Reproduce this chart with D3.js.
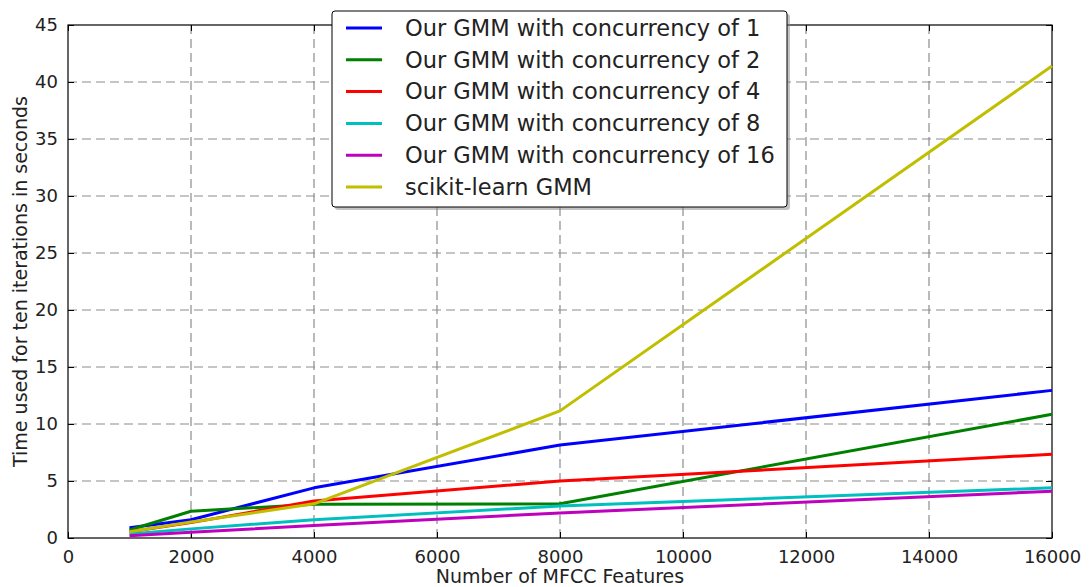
<!DOCTYPE html>
<html>
<head>
<meta charset="utf-8">
<script src="https://cdn.jsdelivr.net/npm/d3@7"></script>
<style>
  body { margin: 0; background: #fff; }
  text { font-family: "DejaVu Sans", sans-serif; fill: #222; }
</style>
</head>
<body>
<div id="chart"></div>
<script>
// data
var features = [1000, 2000, 4000, 8000, 16000];
var conc1 = [0.9, 1.6, 4.4, 8.15, 12.95];
var conc2 = [0.7, 2.35, 2.95, 3.0, 10.85];
var conc4 = [0.55, 1.35, 3.25, 5.0, 7.35];
var conc8 = [0.35, 0.8, 1.6, 2.8, 4.4];
var conc16 = [0.2, 0.5, 1.1, 2.2, 4.1];
var sklearn = [0.55, 1.4, 3.0, 11.15, 41.4];

var seriesNames = ["Our GMM with concurrency of 1", "Our GMM with concurrency of 2",
  "Our GMM with concurrency of 4", "Our GMM with concurrency of 8",
  "Our GMM with concurrency of 16", "scikit-learn GMM"];
var seriesColors = ["#0000ff", "#008000", "#ff0000", "#00bfbf", "#bf00bf", "#bfbf00"];
var xTicks = [0, 2000, 4000, 6000, 8000, 10000, 12000, 14000, 16000];
var yTicks = [0, 5, 10, 15, 20, 25, 30, 35, 40, 45];

var series = [conc1, conc2, conc4, conc8, conc16, sklearn].map(function (vals, i) {
  return {
    name: seriesNames[i],
    color: seriesColors[i],
    values: vals.map(function (v, j) { return { x: features[j], y: v }; })
  };
});

var W = 1092, H = 587;
var margin = { left: 68, right: 40, top: 25, bottom: 49 };
var width = W - margin.left - margin.right;
var height = H - margin.top - margin.bottom;

var svg = d3.select("#chart").append("svg")
  .attr("width", W)
  .attr("height", H);

var g = svg.append("g")
  .attr("transform", "translate(" + margin.left + "," + margin.top + ")");

var xScale = d3.scaleLinear().domain([0, 16000]).range([0, width]);
var yScale = d3.scaleLinear().domain([0, 45]).range([height, 0]);

// grid
g.append("g").selectAll("line")
  .data(xTicks.slice(1, -1)).enter()
  .append("line")
  .attr("x1", d => xScale(d)).attr("x2", d => xScale(d))
  .attr("y1", 0).attr("y2", height)
  .attr("stroke", "#8c8c8c").attr("stroke-width", 1.2)
  .attr("stroke-dasharray", "9,5");

g.append("g").selectAll("line")
  .data(yTicks.slice(1, -1)).enter()
  .append("line")
  .attr("y1", d => yScale(d)).attr("y2", d => yScale(d))
  .attr("x1", 0).attr("x2", width)
  .attr("stroke", "#8c8c8c").attr("stroke-width", 1.2)
  .attr("stroke-dasharray", "9,5");

// axes (ticks inward, mirrored)
var xAxis = d3.axisBottom(xScale).tickValues(xTicks).tickSize(-6).tickPadding(12).tickFormat(d3.format("d"));
var yAxis = d3.axisLeft(yScale).tickValues(yTicks).tickSize(-6).tickPadding(10);

var xg = g.append("g").attr("transform", "translate(0," + height + ")").call(xAxis);
var yg = g.append("g").call(yAxis);
var xt = g.append("g").call(d3.axisTop(xScale).tickValues(xTicks).tickSize(-6).tickFormat(""));
var yr = g.append("g").attr("transform", "translate(" + width + ",0)")
  .call(d3.axisRight(yScale).tickValues(yTicks).tickSize(-6).tickFormat(""));

[xg, yg, xt, yr].forEach(function (a) {
  a.select(".domain").remove();
  a.selectAll(".tick line").attr("stroke", "#000").attr("stroke-width", 1);
  a.selectAll(".tick text").attr("font-size", "18px").attr("fill", "#222");
});

g.append("rect")
  .attr("width", width).attr("height", height)
  .attr("fill", "none").attr("stroke", "#000").attr("stroke-width", 1.2);

// lines
var line = d3.line()
  .x(d => xScale(d.x))
  .y(d => yScale(d.y));

g.append("g").selectAll("path")
  .data(series).enter()
  .append("path")
  .attr("d", d => line(d.values))
  .attr("fill", "none")
  .attr("stroke", d => d.color)
  .attr("stroke-width", 3)
  .attr("stroke-linejoin", "round");

// axis labels
svg.append("text")
  .attr("x", margin.left + width / 2)
  .attr("y", 583)
  .attr("text-anchor", "middle")
  .attr("font-size", "19px")
  .text("Number of MFCC Features");

svg.append("text")
  .attr("transform", "translate(27," + (margin.top + height / 2) + ") rotate(-90)")
  .attr("text-anchor", "middle")
  .attr("font-size", "19px")
  .text("Time used for ten iterations in seconds");

// legend
var legend = svg.append("g").attr("transform", "translate(332,11)");
var lw = 455, lh = 196;
legend.append("rect")
  .attr("x", 3).attr("y", 3)
  .attr("width", lw).attr("height", lh)
  .attr("rx", 3)
  .attr("fill", "#888").attr("opacity", 0.5);
legend.append("rect")
  .attr("width", lw).attr("height", lh)
  .attr("rx", 3)
  .attr("fill", "#fff").attr("stroke", "#000").attr("stroke-width", 1);

var rows = legend.selectAll(".row")
  .data(series).enter()
  .append("g")
  .attr("class", "row")
  .attr("transform", (d, i) => "translate(0," + (17 + i * 31.8) + ")");

rows.append("line")
  .attr("x1", 14).attr("x2", 50)
  .attr("stroke", d => d.color)
  .attr("stroke-width", 3);

rows.append("text")
  .attr("x", 73)
  .attr("dy", "0.35em")
  .attr("font-size", "22.5px")
  .text(d => d.name);
</script>
</body>
</html>
